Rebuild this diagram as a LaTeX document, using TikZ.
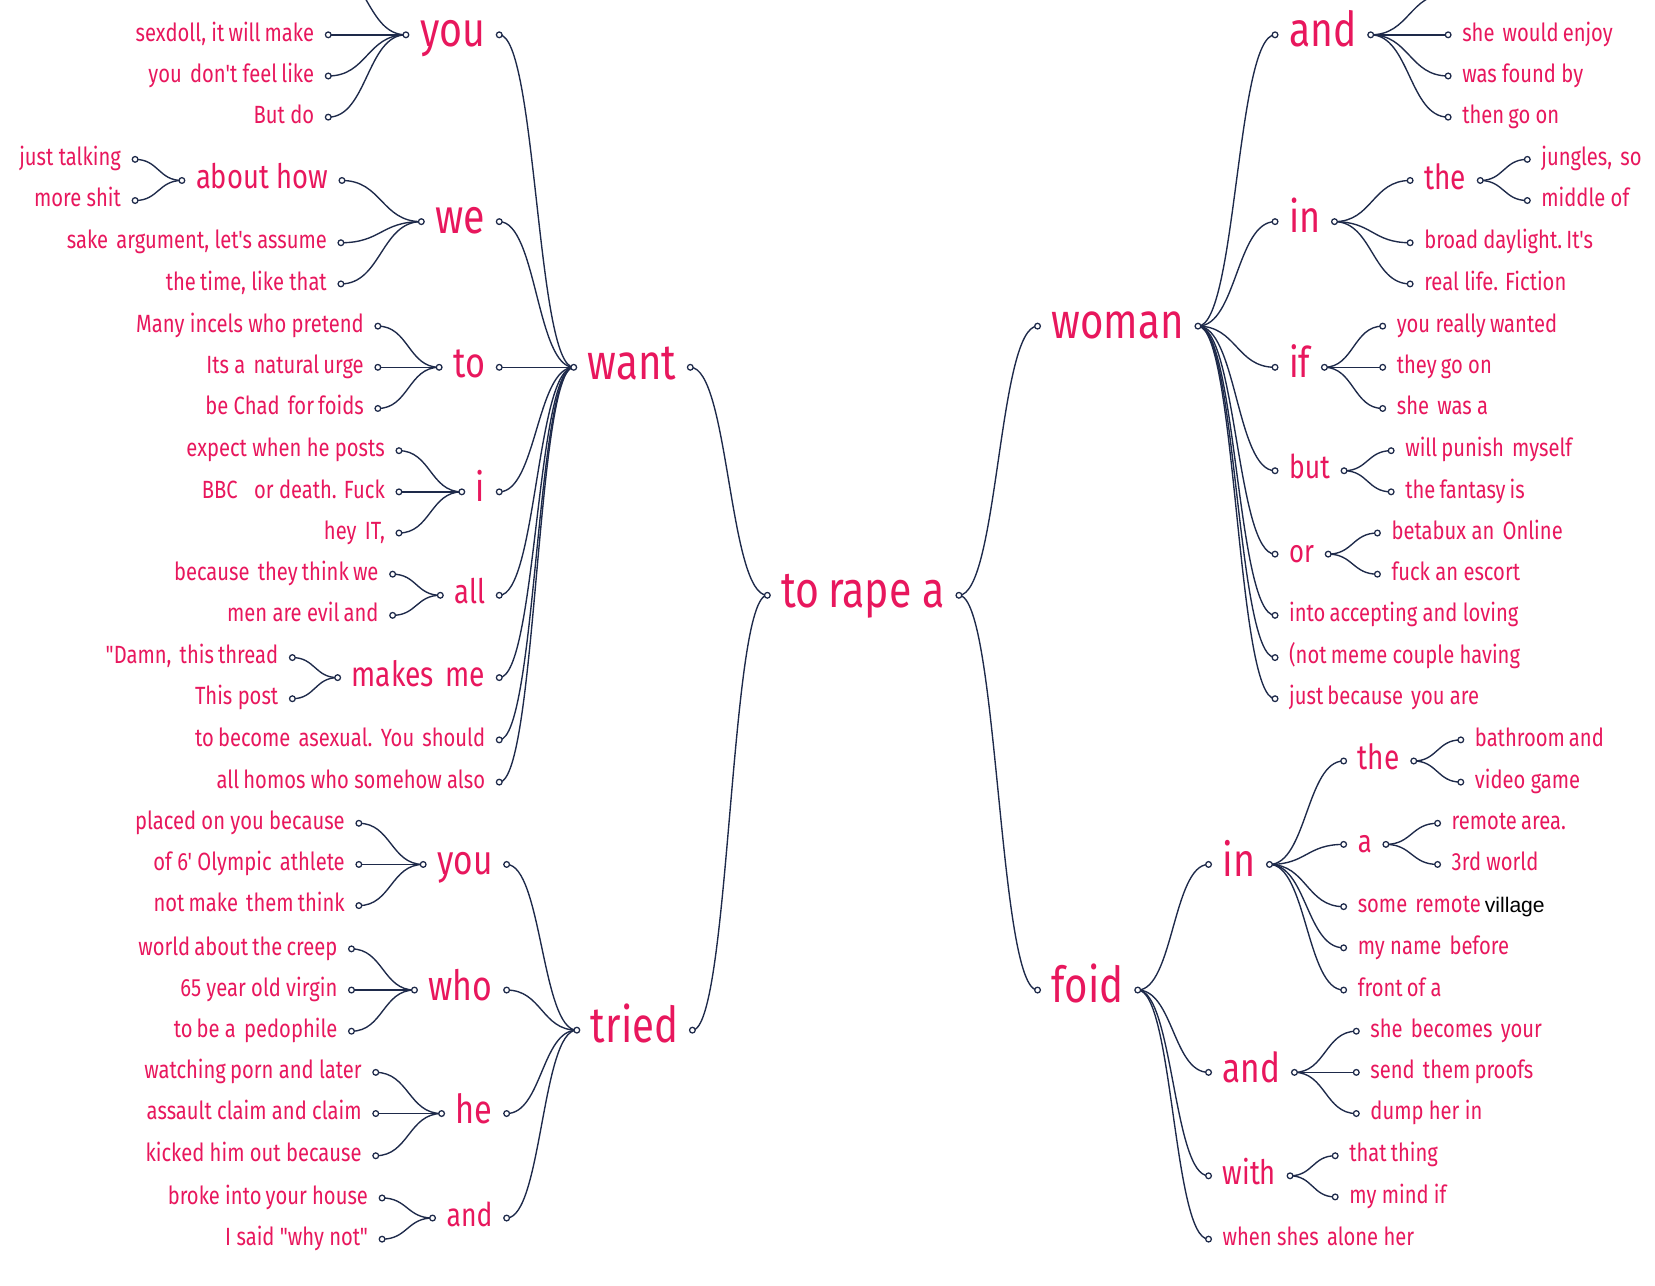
\documentclass[tikz,border=0pt]{standalone}
\usepackage{fontspec}
\usetikzlibrary{calc}
\newfontfamily\wt{Fira Sans}[FakeStretch=0.81]
\newfontfamily\ls{Liberation Sans}
\definecolor{pk}{HTML}{E8175D}
\definecolor{nv}{HTML}{1E2A4A}
\pgfdeclarelayer{fg}
\pgfsetlayers{main,fg}
\newcommand\ds{\hspace{0.33em}}
\newcommand\dotat[1]{\begin{pgfonlayer}{fg}\draw[dotst] (#1) circle[radius=1.35pt];\end{pgfonlayer}}
% left-side word: name, right-dot x, y, size, text
\newcommand\LW[5]{%
  \coordinate (#1R) at (#2,#3);
  \node[wd, font=\wt\fontsize{#4}{#4}\selectfont, anchor=base east] (#1) at (#2-13,#3+0.5*#4) {#5};
  \coordinate (#1L) at (#1.west |- #1R);
  \coordinate (#1L) at ([xshift=-6.5pt]#1L);
  \dotat{#1R}\dotat{#1L}}
% left-side leaf
\newcommand\LL[4]{%
  \coordinate (#1R) at (#2,#3);
  \node[lf, anchor=base east] (#1) at (#2-13,#3+5.9) {#4};
  \dotat{#1R}}
% right-side word: name, left-dot x, y, size, text
\newcommand\RW[5]{%
  \coordinate (#1L) at (#2,#3);
  \node[wd, font=\wt\fontsize{#4}{#4}\selectfont, anchor=base west] (#1) at (#2+13,#3+0.5*#4) {#5};
  \coordinate (#1R) at (#1.east |- #1L);
  \coordinate (#1R) at ([xshift=6.5pt]#1R);
  \dotat{#1R}\dotat{#1L}}
% right-side leaf
\newcommand\RL[4]{%
  \coordinate (#1L) at (#2,#3);
  \node[lf, anchor=base west] (#1) at (#2+13,#3+5.9) {#4};
  \dotat{#1L}}
\begin{document}
\begin{tikzpicture}[x=0.5pt,y=-0.5pt,
  lf/.style={text=pk, inner sep=0pt, font=\wt\fontsize{11.8}{14}\selectfont},
  wd/.style={text=pk, inner sep=0pt},
  dotst/.style={draw=nv, fill=white, line width=0.6pt},
  lk/.style={draw=nv, line width=0.65pt, to path={let \p1=(\tikztostart), \p2=(\tikztotarget) in .. controls ({0.5*(\x1+\x2)},\y1) and ({0.5*(\x1+\x2)},\y2) .. (\tikztotarget)}}]
\useasboundingbox (0,0) rectangle (1568,1218);
\fill[white] (0,0) rectangle (1568,1218);

% centre and first level
\RW{ctr}{727}{564}{24}{to\,rape a}
\LW{want}{654}{348}{23.5}{want}
\LW{tried}{656}{976}{23.5}{tried}
\RW{woman}{983}{309}{23.5}{woman}
\RW{foid}{983}{938}{23.5}{foid}
\draw[lk] (wantR) to (ctrL);
\draw[lk] (triedR) to (ctrL);
\draw[lk] (ctrR) to (womanL);
\draw[lk] (ctrR) to (foidL);

% ---- want ----
\LW{yA}{473}{33}{23}{you}
\coordinate (yA0) at (311,-30);
\LL{yA1}{311}{33}{sexdoll, it\,will\,make}
\LL{yA2}{311}{72}{you\ds don't feel\,like}
\LL{yA3}{311}{111}{But do}
\draw[lk] (yA0) to (yAL);
\draw[lk] (yA1R) to (yAL);
\draw[lk] (yA2R) to (yAL);
\draw[lk] (yA3R) to (yAL);
\draw[lk] (yAR) to (wantL);

\LW{wE}{473}{210}{23}{we}
\LW{abH}{324}{171}{16}{about how}
\LL{abH1}{128}{151}{just talking}
\LL{abH2}{128}{190}{more shit}
\LL{wE2}{323}{230}{sake\ds argument, let's assume}
\LL{wE3}{323}{269}{the\,time, like that}
\draw[lk] (abH1R) to (abHL);
\draw[lk] (abH2R) to (abHL);
\draw[lk] (abHR) to (wEL);
\draw[lk] (wE2R) to (wEL);
\draw[lk] (wE3R) to (wEL);
\draw[lk] (wER) to (wantL);

\LW{tO}{473}{348}{20}{to}
\LL{tO1}{358}{309}{Many incels who pretend}
\LL{tO2}{358}{348}{Its a\ds natural\,urge}
\LL{tO3}{358}{387}{be Chad\ds for\,foids}
\draw[lk] (tO1R) to (tOL);
\draw[lk] (tO2R) to (tOL);
\draw[lk] (tO3R) to (tOL);
\draw[lk] (tOR) to (wantL);

\LW{iI}{473}{466}{19}{i}
\LL{iI1}{378}{427}{expect when he posts}
\LL{iI2}{378}{466}{BBC\ds\ds or death. Fuck}
\LL{iI3}{378}{505}{hey\ds IT,}
\draw[lk] (iI1R) to (iIL);
\draw[lk] (iI2R) to (iIL);
\draw[lk] (iI3R) to (iIL);
\draw[lk] (iIR) to (wantL);

\LW{aL}{473}{564}{16}{all}
\LL{aL1}{372}{544}{because\ds they\,think\,we}
\LL{aL2}{372}{583}{men are evil\,and}
\draw[lk] (aL1R) to (aLL);
\draw[lk] (aL2R) to (aLL);
\draw[lk] (aLR) to (wantL);

\LW{mM}{473}{642}{16.5}{makes\ds me}
\LL{mM1}{277}{623}{"Damn,\ds this\,thread}
\LL{mM2}{277}{662}{This post}
\draw[lk] (mM1R) to (mML);
\draw[lk] (mM2R) to (mML);
\draw[lk] (mMR) to (wantL);

\LL{wA7}{473}{701}{to\,become\ds asexual.\ds You\ds should}
\LL{wA8}{473}{741}{all\,homos who somehow also}
\draw[lk] (wA7R) to (wantL);
\draw[lk] (wA8R) to (wantL);

% ---- tried ----
\LW{yB}{480}{819}{19.5}{you}
\LL{yB1}{340}{780}{placed on you because}
\LL{yB2}{340}{819}{of 6' Olympic\ds athlete}
\LL{yB3}{340}{858}{not\,make\ds them\,think}
\draw[lk] (yB1R) to (yBL);
\draw[lk] (yB2R) to (yBL);
\draw[lk] (yB3R) to (yBL);
\draw[lk] (yBR) to (triedL);

\LW{wH}{480}{938}{19.8}{who}
\LL{wH1}{333}{899}{world\,about\,the\,creep}
\LL{wH2}{333}{938}{65 year old virgin}
\LL{wH3}{333}{977}{to\,be a\ds pedophile}
\draw[lk] (wH1R) to (wHL);
\draw[lk] (wH2R) to (wHL);
\draw[lk] (wH3R) to (wHL);
\draw[lk] (wHR) to (triedL);

\LW{hE}{480}{1055}{19}{he}
\LL{hE1}{356}{1016}{watching\,porn and later}
\LL{hE2}{356}{1055}{assault claim and claim}
\LL{hE3}{356}{1095}{kicked him out because}
\draw[lk] (hE1R) to (hEL);
\draw[lk] (hE2R) to (hEL);
\draw[lk] (hE3R) to (hEL);
\draw[lk] (hER) to (triedL);

\LW{aN}{480}{1154}{15.5}{and}
\LL{aN1}{362}{1135}{broke into\,your house}
\LL{aN2}{362}{1174}{I said "why not"}
\draw[lk] (aN1R) to (aNL);
\draw[lk] (aN2R) to (aNL);
\draw[lk] (aNR) to (triedL);

% ---- woman ----
\RW{aW}{1208}{33}{22.8}{and}
\coordinate (aW0) at (1372,-6);
\dotat{aW0}
\RL{aW1}{1372}{33}{she\ds would\,enjoy}
\RL{aW2}{1372}{72}{was found by}
\RL{aW3}{1372}{111}{then\,go on}
\draw[lk] (womanR) to (aWL);
\draw[lk] (aWR) to (aW0);
\draw[lk] (aWR) to (aW1L);
\draw[lk] (aWR) to (aW2L);
\draw[lk] (aWR) to (aW3L);

\RW{iW}{1208}{210}{21}{in}
\RW{thW}{1336}{171}{16.4}{the}
\RL{thW1}{1447}{151}{jungles,\ds so}
\RL{thW2}{1447}{190}{middle of}
\RL{iW2}{1336}{230}{broad daylight.\,It's}
\RL{iW3}{1336}{269}{real life. Fiction}
\draw[lk] (womanR) to (iWL);
\draw[lk] (iWR) to (thWL);
\draw[lk] (thWR) to (thW1L);
\draw[lk] (thWR) to (thW2L);
\draw[lk] (iWR) to (iW2L);
\draw[lk] (iWR) to (iW3L);

\RW{iF}{1208}{348}{20}{if}
\RL{iF1}{1310}{309}{you really\,wanted}
\RL{iF2}{1310}{348}{they\,go on}
\RL{iF3}{1310}{387}{she\ds was a}
\draw[lk] (womanR) to (iFL);
\draw[lk] (iFR) to (iF1L);
\draw[lk] (iFR) to (iF2L);
\draw[lk] (iFR) to (iF3L);

\RW{bU}{1208}{446}{15.5}{but}
\RL{bU1}{1318}{427}{will\,punish\ds myself}
\RL{bU2}{1318}{466}{the\,fantasy\,is}
\draw[lk] (womanR) to (bUL);
\draw[lk] (bUR) to (bU1L);
\draw[lk] (bUR) to (bU2L);

\RW{oR}{1208}{525}{15}{or}
\RL{oR1}{1305}{505}{betabux an\ds Online}
\RL{oR2}{1305}{544}{fuck an escort}
\draw[lk] (womanR) to (oRL);
\draw[lk] (oRR) to (oR1L);
\draw[lk] (oRR) to (oR2L);

\RL{wo6}{1208}{583}{into\,accepting and loving}
\RL{wo7}{1208}{623}{(not\,meme couple having}
\RL{wo8}{1208}{662}{just\,because\ds you are}
\draw[lk] (womanR) to (wo6L);
\draw[lk] (womanR) to (wo7L);
\draw[lk] (womanR) to (wo8L);

% ---- foid ----
\RW{iN}{1145}{819}{22}{in}
\RW{thF}{1273}{721}{16.4}{the}
\RL{thF1}{1384}{701}{bathroom\,and}
\RL{thF2}{1384}{741}{video game}
\RW{aF}{1273}{800}{15}{a}
\RL{aF1}{1362}{780}{remote\,area.}
\RL{aF2}{1362}{819}{3rd world}
\RL{iN3}{1273}{859}{some\ds remote\,{\color{black}\ls\fontsize{10}{12}\selectfont village}}
\RL{iN4}{1273}{898}{my name\ds before}
\RL{iN5}{1273}{938}{front\,of a}
\draw[lk] (foidR) to (iNL);
\draw[lk] (iNR) to (thFL);
\draw[lk] (thFR) to (thF1L);
\draw[lk] (thFR) to (thF2L);
\draw[lk] (iNR) to (aFL);
\draw[lk] (aFR) to (aF1L);
\draw[lk] (aFR) to (aF2L);
\draw[lk] (iNR) to (iN3L);
\draw[lk] (iNR) to (iN4L);
\draw[lk] (iNR) to (iN5L);

\RW{aD}{1145}{1016}{19.5}{and}
\RL{aD1}{1285}{977}{she\ds becomes\ds your}
\RL{aD2}{1285}{1016}{send\ds them\,proofs}
\RL{aD3}{1285}{1055}{dump her in}
\draw[lk] (foidR) to (aDL);
\draw[lk] (aDR) to (aD1L);
\draw[lk] (aDR) to (aD2L);
\draw[lk] (aDR) to (aD3L);

\RW{wI}{1145}{1114}{16}{with}
\RL{wI1}{1265}{1095}{that\,thing}
\RL{wI2}{1265}{1134}{my mind if}
\draw[lk] (foidR) to (wIL);
\draw[lk] (wIR) to (wI1L);
\draw[lk] (wIR) to (wI2L);

\RL{fo4}{1145}{1174}{when shes\ds alone her}
\draw[lk] (foidR) to (fo4L);
\end{tikzpicture}
\end{document}
